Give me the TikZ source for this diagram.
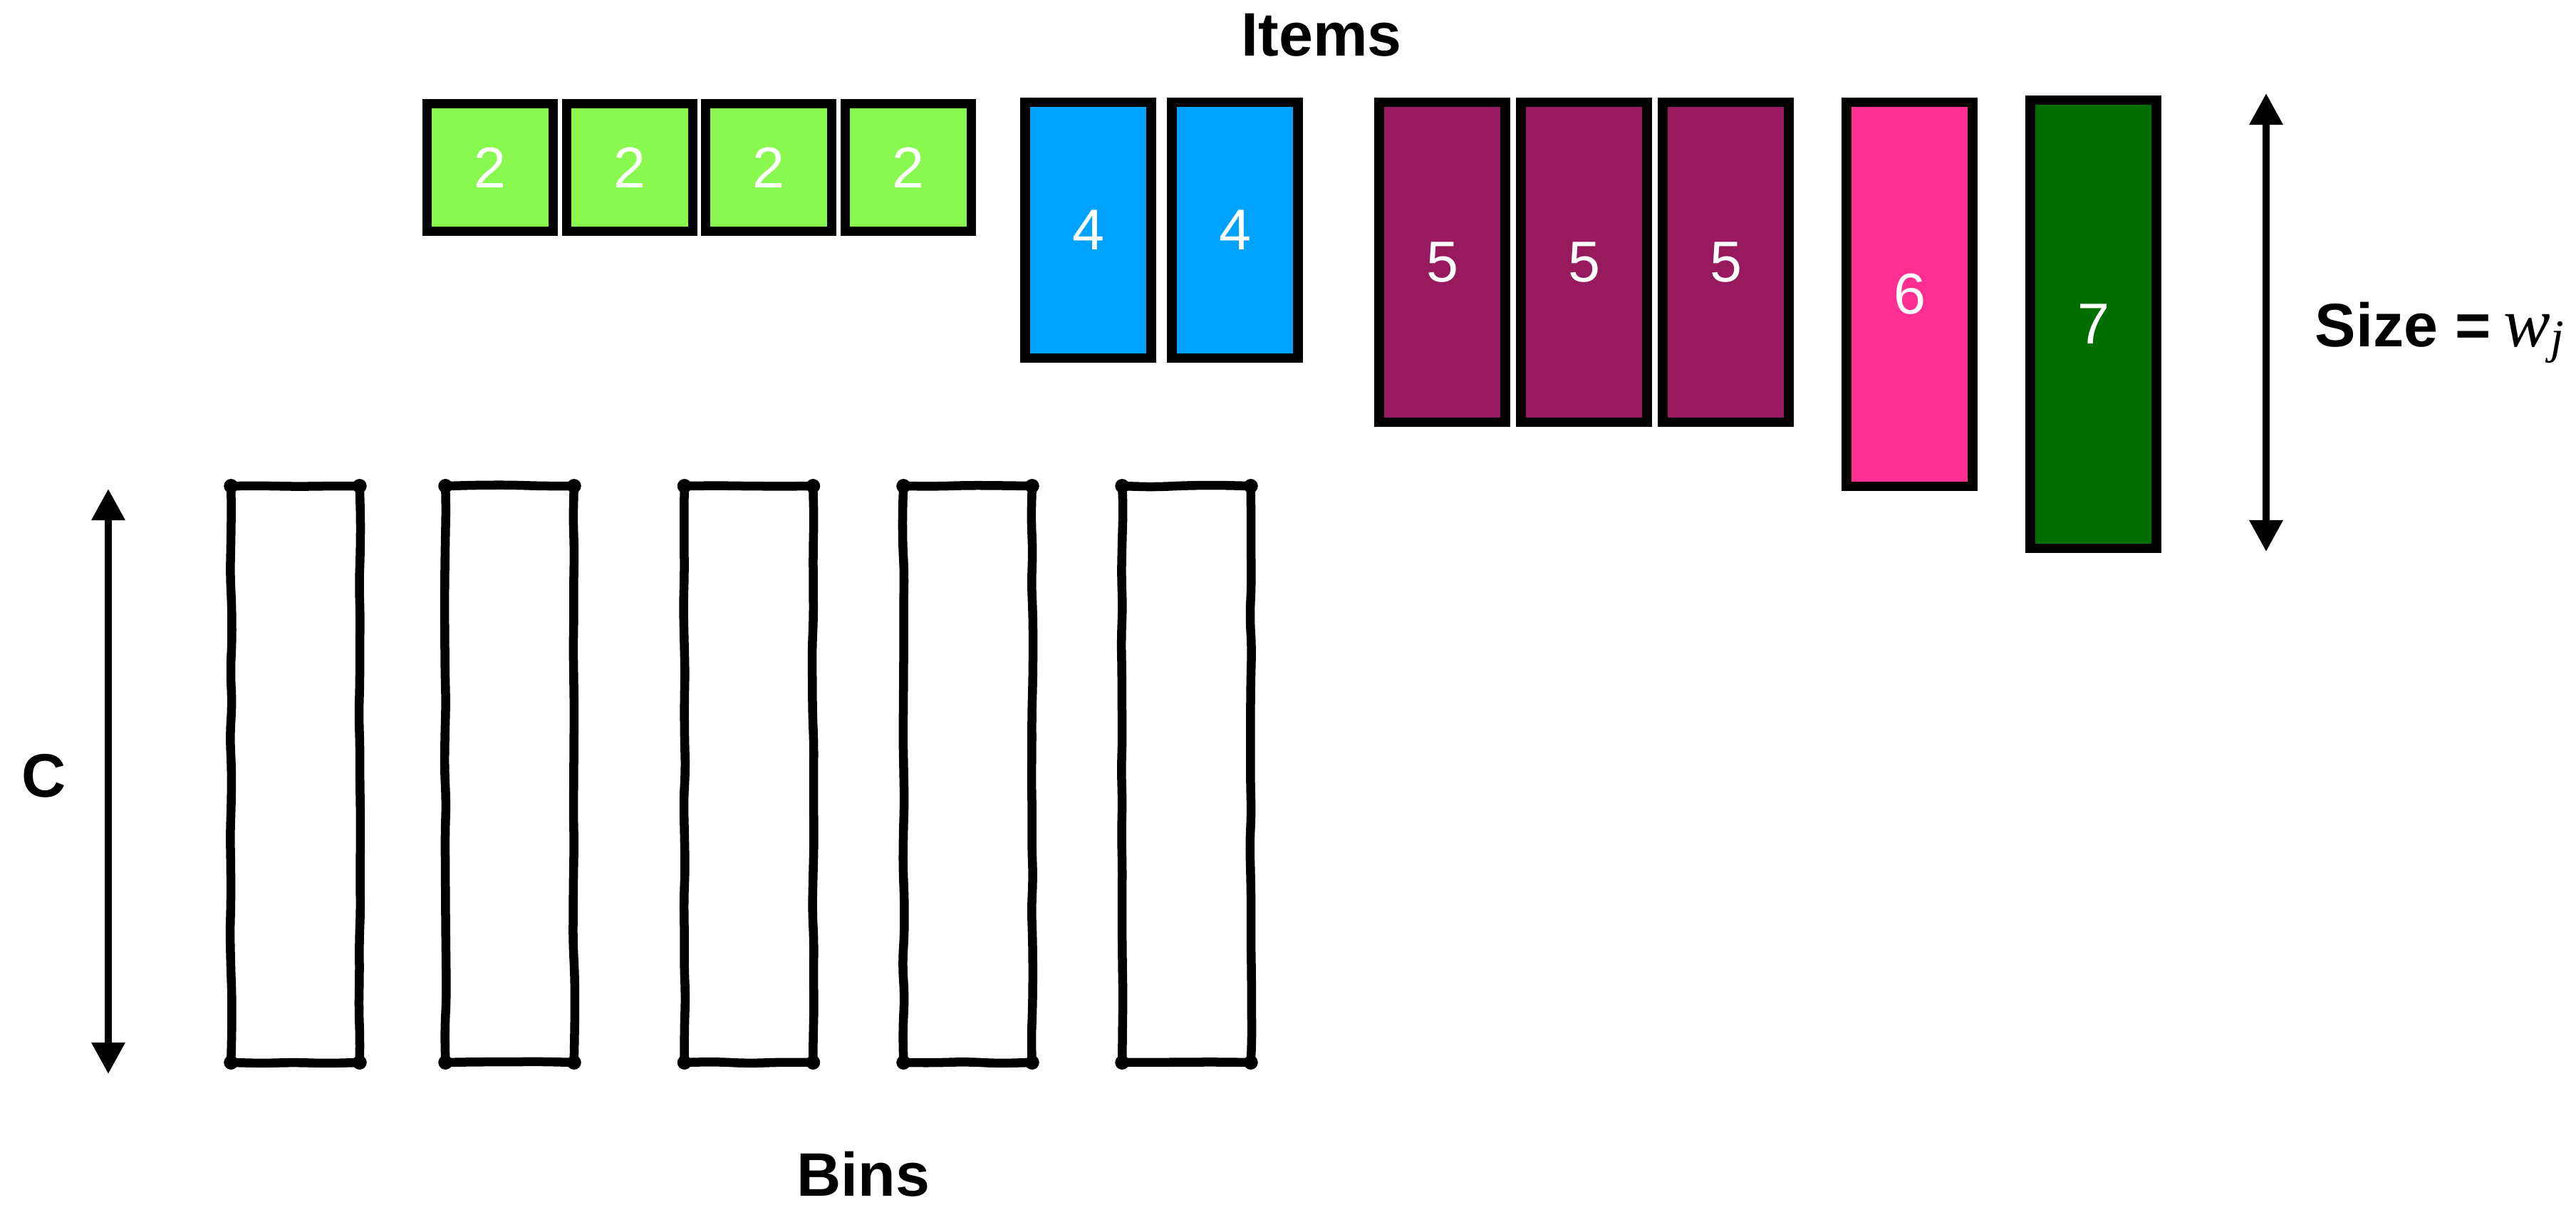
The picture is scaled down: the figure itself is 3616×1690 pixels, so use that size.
\documentclass[tikz,border=0pt]{standalone}
\usepackage{fontspec}
\setmainfont{Liberation Sans}
\newfontfamily\varfont{Liberation Serif}
\usetikzlibrary{arrows.meta,decorations.pathmorphing}

\definecolor{itemlime}{HTML}{89F94F}
\definecolor{itemaqua}{HTML}{00A2FF}
\definecolor{itemmaroon}{HTML}{981A5E}
\definecolor{itempink}{HTML}{FF2F92}
\definecolor{itemfern}{HTML}{006F00}

\begin{document}
\begin{tikzpicture}[x=0.01cm, y=-0.01cm,
  item/.style={draw=black, line width=0.135cm, inner sep=0pt,
    minimum width=1.765cm, text=white,
    font=\fontsize{23}{27}\selectfont},
  size2/.style={item, fill=itemlime,   minimum height=1.785cm},
  size4/.style={item, fill=itemaqua,   minimum height=3.585cm},
  size5/.style={item, fill=itemmaroon, minimum height=4.485cm},
  size6/.style={item, fill=itempink,   minimum height=5.385cm},
  size7/.style={item, fill=itemfern,   minimum height=6.285cm},
  binbox/.style={inner sep=0pt, minimum width=1.79cm, minimum height=8.07cm},
  binside/.style={line width=0.125cm, line cap=round, rounded corners=5pt,
    decorate, decoration={random steps, segment length=13pt, amplitude=0.4pt}},
  binknot/.style={fill=black},
  title/.style={font=\fontsize{24.5}{29}\selectfont\bfseries, anchor=base, inner sep=0pt},
  measure/.style={line width=0.095cm,
    {Triangle[length=0.44cm, width=0.45cm]}-{Triangle[length=0.44cm, width=0.45cm]}}
]
\useasboundingbox (0,0) rectangle (3616,1690);
\pgfmathsetseed{7}

% titles
\node[title] (items) at (1855,78) {Items};
\node[title] (bins) at (1212,1678) {Bins};
\node[title] (cap) at (62,1118) {C};

% items
\node[size2] (a1) at (688,235)  {2};
\node[size2] (a2) at (884,235)  {2};
\node[size2] (a3) at (1079,235) {2};
\node[size2] (a4) at (1275,235) {2};
\node[size4] (b1) at (1527.5,323) {4};
\node[size4] (b2) at (1733.5,323) {4};
\node[size5] (p1) at (2024.5,368) {5};
\node[size5] (p2) at (2223.5,368) {5};
\node[size5] (p3) at (2422.5,368) {5};
\node[size6] (q1) at (2680.5,413) {6};
\node[size7] (r1) at (2938.5,455) {7};

% size measure
\coordinate (sizeTop) at (3181,131);
\coordinate (sizeBot) at (3181,774);
\draw[measure] (sizeTop) -- (sizeBot);
\node[title, anchor=base west] (sizelbl) at (3249,486) {Size =};
\node[anchor=base west, inner sep=0pt] (wsym) at (3514,486)
  {{\varfont\itshape\fontsize{28}{32}\selectfont w}%
   \raisebox{-0.27em}{\varfont\itshape\fontsize{19}{22}\selectfont j}};

% capacity measure
\coordinate (capTop) at (152,686);
\coordinate (capBot) at (152,1507);
\draw[measure] (capTop) -- (capBot);

% bins, drawn by hand
\foreach \n/\cx in {1/414.5, 2/715.5, 3/1051, 4/1358.5, 5/1665.5} {
  \node[binbox] (bin\n) at (\cx,1086.5) {};
  \draw[binside] (bin\n.north west) -- (bin\n.north east);
  \draw[binside] (bin\n.north east) -- (bin\n.south east);
  \draw[binside] (bin\n.south east) -- (bin\n.south west);
  \draw[binside] (bin\n.south west) -- (bin\n.north west);
  \foreach \c in {north west, north east, south east, south west}
    \fill[binknot] (bin\n.\c) circle (0.1cm);
}
\end{tikzpicture}
\end{document}
